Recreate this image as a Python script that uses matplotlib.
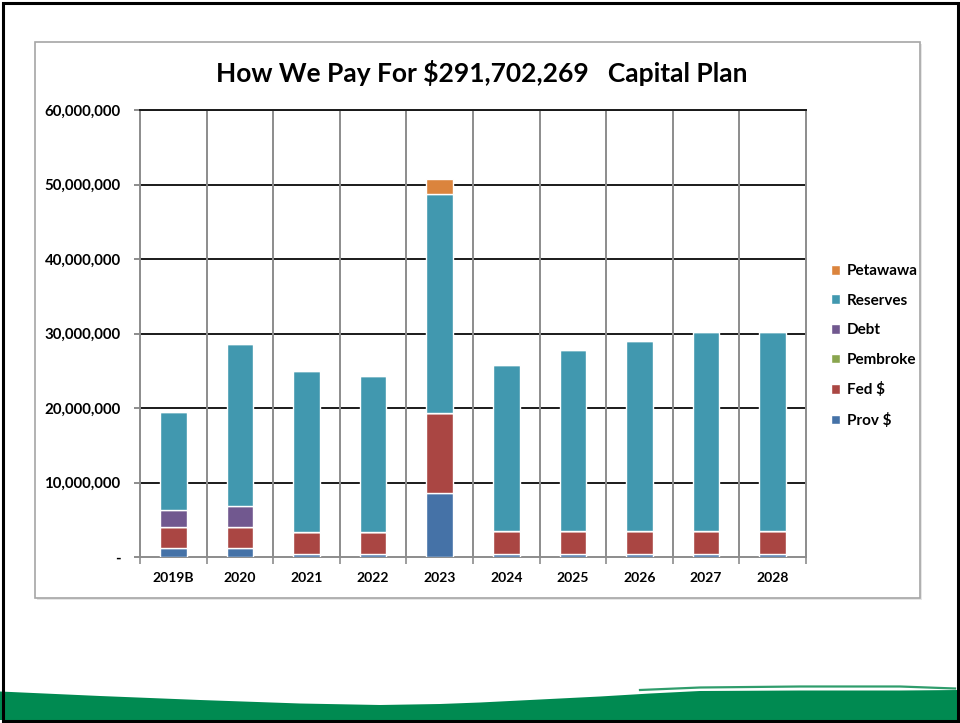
import matplotlib
matplotlib.use("Agg")
import matplotlib.pyplot as plt
import numpy as np
from matplotlib.patches import Rectangle, Polygon
from matplotlib.ticker import FuncFormatter, FixedLocator

plt.rcParams['font.family'] = ['Lato', 'DejaVu Sans']

years = ["2019B", "2020", "2021", "2022", "2023", "2024", "2025", "2026", "2027", "2028"]
prov = [1.2e6, 1.2e6, 0.45e6, 0.45e6, 8.55e6, 0.45e6, 0.45e6, 0.45e6, 0.45e6, 0.45e6]
fed = [2.8e6, 2.8e6, 2.85e6, 2.85e6, 10.8e6, 3.0e6, 3.0e6, 3.0e6, 3.0e6, 3.0e6]
pembroke = [0, 0, 0, 0, 0, 0, 0, 0, 0, 0]
debt = [2.25e6, 2.8e6, 0, 0, 0, 0, 0, 0, 0, 0]
reserves = [13.15e6, 21.8e6, 21.7e6, 21.0e6, 29.35e6, 22.3e6, 24.3e6, 25.6e6, 26.8e6, 26.8e6]
petawawa = [0, 0, 0, 0, 2.0e6, 0, 0, 0, 0, 0]

series = [
    ("Prov $", prov, "#4572A7"),
    ("Fed $", fed, "#AA4643"),
    ("Pembroke", pembroke, "#89A54E"),
    ("Debt", debt, "#71588F"),
    ("Reserves", reserves, "#4198AF"),
    ("Petawawa", petawawa, "#DB843D"),
]

W, H = 960, 723
fig = plt.figure(figsize=(W / 100, H / 100), dpi=100)
fig.patch.set_facecolor("white")

def fx(px):
    return px / W

def fy(py):
    return 1 - py / H

# chart box with soft shadow
fig.patches.append(Rectangle((fx(37), fy(600)), fx(885), 556 / H, transform=fig.transFigure,
                             facecolor="#e6e6e6", edgecolor="none", zorder=0))
fig.patches.append(Rectangle((fx(35), fy(598)), fx(885), 556 / H, transform=fig.transFigure,
                             facecolor="white", edgecolor="#a6a6a6", linewidth=1.2, zorder=0))

# green wave at the bottom of the slide
top_pts = [(0, 691.5), (100, 696), (200, 700), (300, 703.5), (380, 705), (440, 704),
           (480, 702.5), (540, 699.5), (600, 696.5), (650, 693.5), (700, 691), (800, 690.5),
           (900, 690.5), (960, 690)]
poly = [(fx(x), fy(y)) for x, y in top_pts] + [(fx(960), fy(720)), (fx(0), fy(720))]
fig.patches.append(Polygon(poly, closed=True, transform=fig.transFigure,
                           facecolor="#008a51", edgecolor="none", zorder=1))
swoosh = [(640, 690), (700, 687.5), (800, 686.5), (900, 686.5), (955, 688.5)]
fig.lines.append(plt.Line2D([fx(x) for x, y in swoosh], [fy(y) for x, y in swoosh],
                            transform=fig.transFigure, color="#2f9d6c", linewidth=1.6, zorder=1))

# slide frame
fig.patches.append(Rectangle((fx(3), fy(721)), fx(955), 718 / H, transform=fig.transFigure,
                             fill=False, edgecolor="black", linewidth=2.2, zorder=2))

ax = fig.add_axes([fx(140), fy(557), fx(806) - fx(140), (557 - 110) / H])
ax.set_zorder(5)
ax.set_facecolor("white")

x = np.arange(len(years))
bottom = np.zeros(len(years))
handles = []
for name, vals, color in series:
    v = np.array(vals, dtype=float)
    bars = ax.bar(x, v, width=0.4, bottom=bottom, color=color, edgecolor="white",
                  linewidth=1.0, label=name, zorder=3)
    handles.append(bars)
    bottom += v

ax.set_xlim(-0.5, len(years) - 0.5)
ax.set_ylim(0, 60e6)

ax.yaxis.set_major_locator(FixedLocator(np.arange(0, 60e6 + 1, 10e6)))
ax.yaxis.set_major_formatter(FuncFormatter(lambda v, p: "-" if v == 0 else f"{int(v):,}"))
ax.set_xticks(x)
ax.set_xticklabels(years)
ax.set_xticks(np.arange(-0.5, len(years)), minor=True)

ax.tick_params(axis="x", which="major", length=0, pad=11)
ax.tick_params(axis="x", which="minor", length=5, color="#8c8c8c", width=1.2)
ax.tick_params(axis="y", length=4, color="#8c8c8c", width=1.4, pad=10)
for lab in ax.get_xticklabels():
    lab.set_fontweight("bold")
    lab.set_fontsize(10)
for lab in ax.get_yticklabels():
    lab.set_fontweight("bold")
    lab.set_fontsize(10.8)

for yv in np.arange(10e6, 60e6 + 1, 10e6):
    ax.axhline(yv, color="#1a1a1a", linewidth=1.4, zorder=1)
for xv in np.arange(0.5, len(years) - 0.5):
    ax.axvline(xv, color="#8c8c8c", linewidth=1.4, zorder=1)

for side in ["left", "right", "bottom"]:
    ax.spines[side].set_color("#8c8c8c")
    ax.spines[side].set_linewidth(1.4)
ax.spines["top"].set_color("#1a1a1a")
ax.spines["top"].set_linewidth(1.4)

fig.text(fx(482), fy(73), "How We Pay For $291,702,269   Capital Plan", ha="center", va="center",
         fontsize=19, fontweight="bold", zorder=6)

leg = fig.legend(handles[::-1], [s[0] for s in series][::-1], loc="center left",
                 bbox_to_anchor=(fx(817), fy(346)), frameon=False,
                 handlelength=0.6, handleheight=0.6, handletextpad=0.45, labelspacing=1.02,
                 prop={"weight": "bold", "size": 11})
leg.set_zorder(6)

fig.savefig("out.png", dpi=100, facecolor="white")
